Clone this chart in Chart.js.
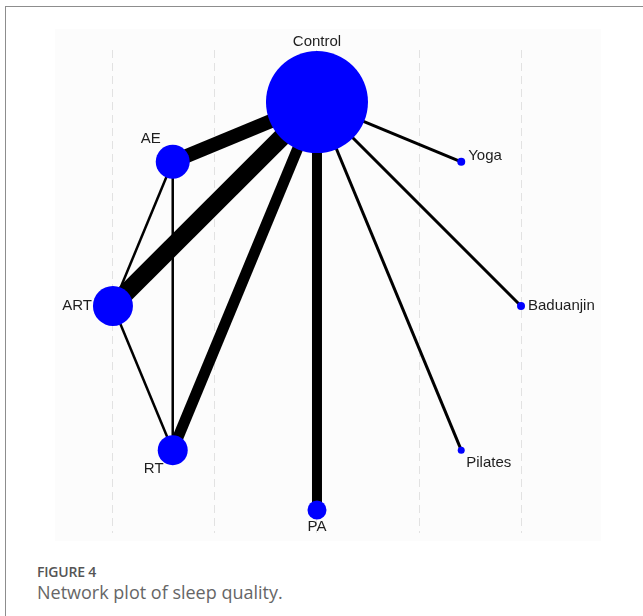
<!DOCTYPE html>
<html><head><meta charset="utf-8">
<script src="https://cdn.jsdelivr.net/npm/chart.js@4/dist/chart.umd.min.js"></script>
<style>
html,body{margin:0;padding:0;background:#fff;width:643px;height:616px;overflow:hidden;}
#frame{position:absolute;left:5px;top:6px;width:700px;height:700px;border:1.5px solid #8d8d8d;box-sizing:border-box;}
#plot{position:absolute;left:55px;top:29px;width:546px;height:512px;background:#fcfcfc;}
#fig{position:absolute;left:37px;top:562px;font:600 14px "Open Sans";color:#555;letter-spacing:-0.2px;}
#cap{position:absolute;left:37px;top:580px;font:400 18px "Open Sans";color:#666;}
</style></head>
<body>
<div id="frame"></div>
<div id="plot"><canvas id="c"></canvas></div>
<div id="fig">FIGURE 4</div>
<div id="cap">Network plot of sleep quality.</div>
<script>
const treatments = ['Control','AE','ART','RT','PA','Pilates','Baduanjin','Yoga'];
const nodeX = [0, -0.707, -1, -0.707, 0, 0.707, 1, 0.707];
const nodeY = [1, 0.707, 0, -0.707, -1, -0.707, 0, 0.707];
const nodeSize = [51, 17, 20, 15, 9.5, 3.5, 4, 4];
const edgeFrom = ['Control','Control','Control','Control','Control','Control','Control','AE','AE','ART'];
const edgeTo   = ['AE','ART','RT','PA','Yoga','Baduanjin','Pilates','ART','RT','RT'];
const edgeWidth = [14, 18, 11, 10, 3, 3, 3, 2.5, 2.5, 2.5];
const gridTicks = [-1, -0.5, 0, 0.5, 1];

// label placement (style only): pixel offset from node centre + alignment
const labelStyle = {
  Control:{dx:0,dy:-60,align:'center'},
  AE:{dx:-22,dy:-23,align:'center'},
  ART:{dx:-21,dy:0,align:'right'},
  RT:{dx:-19,dy:19,align:'center'},
  PA:{dx:0,dy:17,align:'center'},
  Pilates:{dx:5,dy:13,align:'left'},
  Baduanjin:{dx:7,dy:0,align:'left'},
  Yoga:{dx:7,dy:-6,align:'left'}
};

const idx = n => treatments.indexOf(n);
const datasets = [];
datasets.push({
  label:'nodes',
  data: treatments.map((t,i)=>({x:nodeX[i], y:nodeY[i]})),
  pointRadius: nodeSize,
  pointHoverRadius: nodeSize,
  backgroundColor:'#0000ff',
  borderWidth:0,
  pointBorderWidth:0,
  order:0
});
edgeFrom.forEach((f,k)=>{
  const a = idx(f), b = idx(edgeTo[k]);
  datasets.push({
    label: f+'-'+edgeTo[k],
    data:[{x:nodeX[a],y:nodeY[a]},{x:nodeX[b],y:nodeY[b]}],
    showLine:true,
    pointRadius:0,
    borderColor:'#000',
    borderWidth:edgeWidth[k],
    borderCapStyle:'butt',
    fill:false,
    order:1
  });
});

const labelPlugin = {
  id:'labels',
  afterDatasetsDraw(chart){
    const ctx = chart.ctx, xs = chart.scales.x, ys = chart.scales.y;
    ctx.save();
    ctx.font = '15px "Liberation Sans", Arial, sans-serif';
    ctx.fillStyle = '#1e1e1e';
    ctx.textBaseline = 'middle';
    treatments.forEach((t,i)=>{
      const s = labelStyle[t];
      ctx.textAlign = s.align;
      ctx.fillText(t, xs.getPixelForValue(nodeX[i]) + s.dx, ys.getPixelForValue(nodeY[i]) + s.dy);
    });
    ctx.restore();
  }
};

new Chart(document.getElementById('c'), {
  type:'scatter',
  data:{datasets},
  options:{
    responsive:true,
    maintainAspectRatio:false,
    animation:false,
    clip:false,
    layout:{padding:{top:21,bottom:8,left:0,right:0}, autoPadding:false},
    plugins:{legend:{display:false}, tooltip:{enabled:false}},
    scales:{
      x:{type:'linear', min:-1.284, max:1.392,
         afterBuildTicks: ax => { ax.ticks = gridTicks.map(v=>({value:v})); },
         ticks:{display:false},
         grid:{color:'#e2e2e2', lineWidth:1, drawTicks:false},
         border:{display:false, dash:[8,5]}},
      y:{type:'linear', min:-1.113, max:1.255, display:false}
    }
  },
  plugins:[labelPlugin]
});
</script>
</body></html>
